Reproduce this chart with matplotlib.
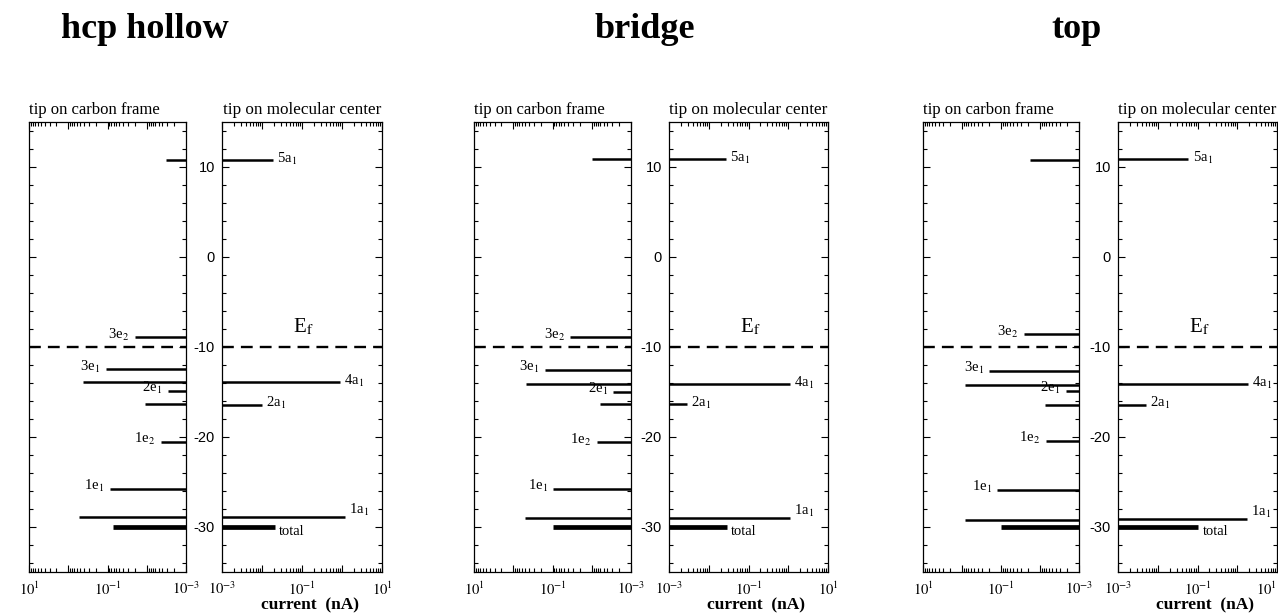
import matplotlib
matplotlib.use('Agg')
import numpy as np
import matplotlib.pyplot as plt
from matplotlib.ticker import MultipleLocator, LogLocator, NullFormatter

plt.rcParams['font.family'] = ['Liberation Serif', 'DejaVu Serif']
plt.rcParams['mathtext.fontset'] = 'stix'
plt.rcParams['axes.unicode_minus'] = False

W, H = 1278, 613

sites = ['hcp hollow', 'bridge', 'top']

# level energies (eV) and current (nA) for tip on carbon frame
hcp_frame_E = [10.75, -8.93, -12.5, -13.9, -14.9, -16.3, -20.55, -25.8, -28.9]
hcp_frame_I = [3.2e-3, 0.02, 0.11, 0.42, 2.9e-3, 0.011, 4.4e-3, 0.087, 0.53]
bri_frame_E = [10.85, -8.93, -12.56, -14.1, -15.0, -16.33, -20.6, -25.8, -28.96]
bri_frame_I = [0.0097, 0.035, 0.155, 0.47, 2.8e-3, 6.2e-3, 7.5e-3, 0.095, 0.50]
top_frame_E = [10.8, -8.6, -12.63, -14.2, -14.9, -16.44, -20.44, -25.9, -29.2]
top_frame_I = [0.018, 0.026, 0.2, 0.84, 2.2e-3, 7.4e-3, 7.1e-3, 0.124, 0.84]
frame_labels = ['', '3e2', '3e1', '', '2e1', '', '1e2', '1e1', '']

# tip on molecular center
hcp_center_E = [10.75, -13.9, -16.4, -28.9]
hcp_center_I = [0.019, 0.89, 0.01, 1.19]
bri_center_E = [10.85, -14.1, -16.33, -28.96]
bri_center_I = [0.027, 1.1, 2.8e-3, 1.1]
top_center_E = [10.85, -14.1, -16.4, -29.1]
top_center_I = [0.059, 1.9, 5e-3, 1.74]
center_labels = ['5a1', '4a1', '2a1', '1a1']

# total current
total_E = [-30.0, -30.0, -30.05]
total_frame_I = [0.074, 0.095, 0.10]
total_center_I = [0.021, 0.028, 0.105]

fermi = -10

frame_E = [hcp_frame_E, bri_frame_E, top_frame_E]
frame_I = [hcp_frame_I, bri_frame_I, top_frame_I]
center_E = [hcp_center_E, bri_center_E, top_center_E]
center_I = [hcp_center_I, bri_center_I, top_center_I]

# axes pixel extents (left, right) for each pair
frame_px = [(29, 186), (474, 631), (923, 1079)]
center_px = [(222, 382), (669, 828), (1118, 1277)]
title_px = [145, 645, 1076]
top_px, bot_px = 122, 572


def label_tex(s):
    if s == 'total':
        return s
    return s[:-1] + r'$_{' + s[-1] + '}$'


def style_axes(ax, side):
    ax.set_xscale('log')
    if side == 'frame':
        ax.set_xlim(10, 1e-3)
    else:
        ax.set_xlim(1e-3, 10)
    ax.set_ylim(-35, 15)
    ax.set_xticks([1e-3, 1e-2, 1e-1, 1, 10])
    ax.set_xticklabels([r'$10^{-3}$', '', r'$10^{-1}$', '', r'$10^{1}$'])
    ax.xaxis.set_minor_locator(LogLocator(base=10, subs=np.arange(2, 10), numticks=20))
    ax.xaxis.set_minor_formatter(NullFormatter())
    ax.yaxis.set_major_locator(MultipleLocator(10))
    ax.yaxis.set_minor_locator(MultipleLocator(2))
    ax.tick_params(which='both', direction='in', top=True, right=True, width=0.8)
    ax.tick_params(which='major', length=5)
    ax.tick_params(which='minor', length=3)
    ax.tick_params(axis='x', labelsize=10.5, pad=6)
    if side == 'frame':
        ax.tick_params(axis='y', labelleft=False)
    else:
        ax.tick_params(axis='y', labelsize=10.5, pad=5, labelfontfamily='Liberation Sans')
    for sp in ax.spines.values():
        sp.set_linewidth(0.9)
    ax.axhline(fermi, color='black', lw=1.7, ls=(0, (5, 3)))


fig = plt.figure(figsize=(W / 100, H / 100), dpi=100)

nudge = {'1a1': 4, 'total': -3}

for k in range(3):
    fl, fr = frame_px[k]
    cl, cr = center_px[k]
    axf = fig.add_axes([fl / W, (H - bot_px) / H, (fr - fl) / W, (bot_px - top_px) / H])
    axc = fig.add_axes([cl / W, (H - bot_px) / H, (cr - cl) / W, (bot_px - top_px) / H])
    style_axes(axf, 'frame')
    style_axes(axc, 'center')

    # tip on carbon frame: bars grow leftwards from 1e-3
    axf.hlines(frame_E[k], 1e-3, frame_I[k], color='black', lw=1.8)
    axf.hlines(total_E[k], 1e-3, total_frame_I[k], color='black', lw=3.4)
    for e, i, lab in zip(frame_E[k], frame_I[k], frame_labels):
        if lab:
            axf.annotate(label_tex(lab), (i, e), xytext=(-4, 2 + nudge.get(lab, 0)),
                         textcoords='offset points', ha='right', va='center', fontsize=10.5)

    # tip on molecular center: bars grow rightwards from 1e-3
    axc.hlines(center_E[k], 1e-3, center_I[k], color='black', lw=1.8)
    axc.hlines(total_E[k], 1e-3, total_center_I[k], color='black', lw=3.4)
    for e, i, lab in zip(center_E[k], center_I[k], center_labels):
        axc.annotate(label_tex(lab), (i, e), xytext=(3, 1 + nudge.get(lab, 0)),
                     textcoords='offset points', ha='left', va='center', fontsize=10.5)
    axc.annotate('total', (total_center_I[k], total_E[k]), xytext=(3, nudge['total']),
                 textcoords='offset points', ha='left', va='center', fontsize=10.5)

    axc.text(0.06, -8.4, r'E$_\mathrm{f}$', fontsize=15, ha='left', va='baseline')

    fig.text(title_px[k] / W, 1 - 38 / H, sites[k], fontsize=26, fontweight='bold',
             ha='center', va='baseline')
    fig.text(fl / W, 1 - 114 / H, 'tip on carbon frame', fontsize=12,
             ha='left', va='baseline')
    fig.text((cl + cr) / 2 / W, 1 - 114 / H, 'tip on molecular center', fontsize=12.3,
             ha='center', va='baseline')
    fig.text((cl + cr) / 2 / W + 8 / W, 1 - 605 / H, 'current  (nA)', fontsize=12.5,
             fontweight='bold', ha='center', va='center')

    if k == 2:
        # keep the last tick label inside the figure
        axc.get_xticklabels()[-1].set_horizontalalignment('right')

fig.savefig('out.png', dpi=100)
